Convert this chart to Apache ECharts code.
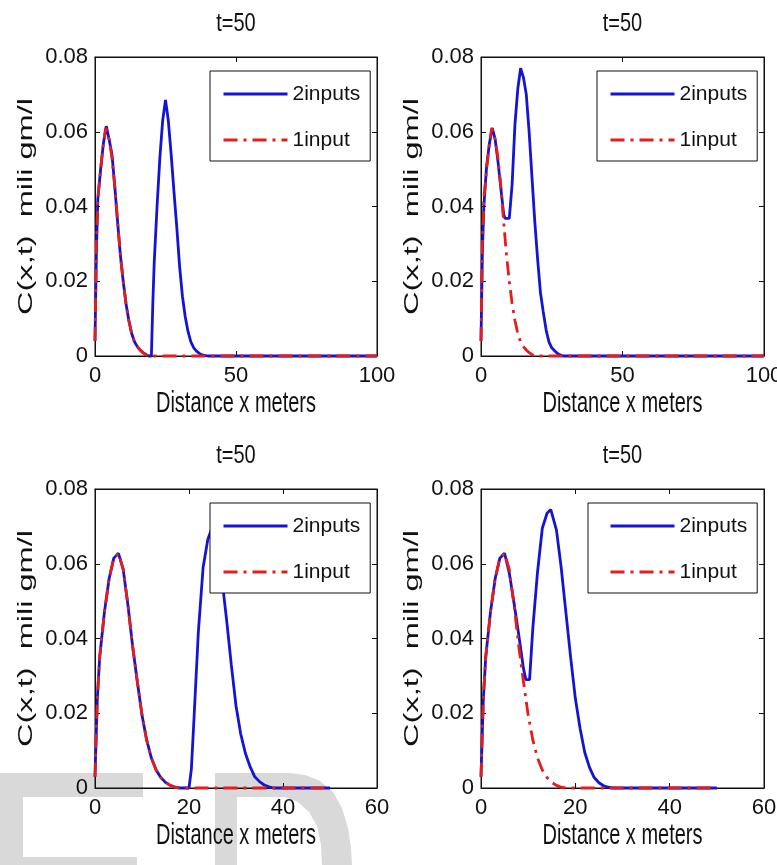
<!DOCTYPE html>
<html>
<head>
<meta charset="utf-8">
<title>C(x,t) at t=50</title>
<script src="https://cdn.jsdelivr.net/npm/echarts@6/dist/echarts.min.js"></script>
<style>
  html, body { margin: 0; padding: 0; background: #fff; }
  #chart { width: 777px; height: 865px; }
</style>
</head>
<body>
<div id="chart"></div>
<script>
// ==========================================
// 1. Data
// ==========================================
const panelTitles = ['t=50', 't=50', 't=50', 't=50'];
const seriesNames = ['2inputs', '1input'];
const xAxisName = 'Distance x meters';
const yAxisName = 'C(x,t)  mili gm/l';

const xTicksLong = [0, 50, 100];
const xTicksShort = [0, 20, 40, 60];
const yTicks = [0, 0.02, 0.04, 0.06, 0.08];

// [x, C] pairs
const twoInputs1 = [[0,0.004],[0.5,0.028],[1,0.042],[2,0.05],[3,0.057],[4,0.0615],[5,0.058],[6,0.054],[7,0.0455],[8,0.036],[9,0.027],[10,0.02],[11,0.014],[12,0.0095],[13,0.006],[14,0.0038],[15,0.0025],[16,0.0016],[17,0.0009],[18,0.0004],[19,0],[20,0],[20.5,0.014],[21,0.025],[22,0.04],[23,0.053],[24,0.063],[25,0.0685],[26,0.063],[27,0.054],[28,0.044],[29,0.0345],[30,0.024],[31,0.016],[32,0.0105],[33,0.0065],[34,0.0038],[35,0.0022],[36,0.0013],[37,0.0007],[38,0.0003],[40,0],[100,0]];
const oneInput1 = [[0,0.004],[0.5,0.03],[1,0.042],[2,0.05],[3,0.057],[3.8,0.061],[5,0.058],[6,0.053],[7,0.0455],[8,0.036],[9,0.027],[10,0.02],[11,0.014],[12,0.0095],[13,0.006],[14,0.0038],[15,0.0025],[16,0.0016],[17,0.0009],[18,0.0004],[19,0],[100,0]];
const twoInputs2 = [[0,0.004],[0.5,0.028],[1,0.04],[2,0.051],[3,0.057],[4,0.061],[5,0.058],[6,0.052],[7,0.045],[8,0.038],[8.5,0.0368],[10,0.0368],[11,0.046],[12,0.062],[13,0.0715],[14,0.077],[15,0.0745],[16,0.07],[17,0.06],[18,0.048],[19,0.036],[20,0.026],[21,0.017],[22,0.0118],[23,0.007],[24,0.0038],[25,0.0022],[26,0.0014],[27,0.0007],[28,0.0003],[29,0],[100,0]];
const twoInputs3 = [[0,0.003],[0.5,0.024],[1,0.035],[2,0.047],[3,0.056],[4,0.0615],[5,0.0628],[6,0.0585],[7,0.049],[8,0.038],[9,0.0285],[10,0.0195],[11,0.0128],[12,0.008],[13,0.0048],[14,0.0028],[15,0.0015],[16,0.0007],[17,0.0002],[18,0],[20,0],[20.5,0.005],[21,0.017],[22,0.042],[23,0.059],[24,0.0665],[25,0.07],[26,0.067],[27,0.056],[28,0.045],[29,0.033],[30,0.022],[31,0.0145],[32,0.0093],[33,0.0057],[34,0.003],[35,0.0017],[36,0.0008],[37,0.0003],[38,0],[50,0]];
const oneInput3 = [[0,0.003],[0.5,0.024],[1,0.035],[2,0.047],[3,0.056],[4,0.0615],[5,0.0628],[6,0.0585],[7,0.049],[8,0.038],[9,0.0285],[10,0.0195],[11,0.0128],[12,0.008],[13,0.0048],[14,0.0028],[15,0.0015],[16,0.0007],[17,0.0002],[18,0],[50,0]];
const twoInputs4 = [[0,0.003],[0.5,0.024],[1,0.035],[2,0.047],[3,0.056],[4,0.0615],[5,0.0628],[6,0.0575],[7,0.0495],[8,0.041],[9,0.032],[9.5,0.029],[10.3,0.029],[11,0.043],[12,0.058],[13,0.0695],[14,0.0735],[14.8,0.0745],[16,0.069],[17,0.059],[18,0.047],[19,0.035],[20,0.024],[21,0.016],[22,0.0095],[23,0.0055],[24,0.0028],[25,0.0014],[26,0.0006],[27,0.0002],[28,0],[50,0]];

// ==========================================
// 2. Layout & styles
// ==========================================
const FONT = '"Liberation Sans", Arial, sans-serif';
const BLUE = '#1414d2', RED = '#e31c1c', INK = '#111', GREY = '#d9d9d9';
const PLOT_H = 299;
const LINE_W = 2.8;

const panels = [
    { left: 95,  top: 57,  width: 282, xTicks: xTicksLong,  two: twoInputs1, one: oneInput1, legend: [210, 71, 12] },
    { left: 481, top: 57,  width: 283, xTicks: xTicksLong,  two: twoInputs2, one: oneInput1, legend: [597, 71, 12] },
    { left: 95,  top: 489, width: 282, xTicks: xTicksShort, two: twoInputs3, one: oneInput3, legend: [210, 503, 12] },
    { left: 481, top: 489, width: 283, xTicks: xTicksShort, two: twoInputs4, one: oneInput3, legend: [588, 503, 21] }
];

// ==========================================
// 3. Build option
// ==========================================
const grid = [], xAxis = [], yAxis = [], series = [], legend = [];

// faint "ED" watermark in the lower left corner
const graphic = [
    { type: 'polygon', z: -10, silent: true,
      shape: { points: [[0,773],[143,773],[143,797],[23,797],[23,857],[137,857],[137,865],[0,865]] },
      style: { fill: GREY } },
    { type: 'polygon', z: -10, silent: true,
      shape: { points: [[215,865],[215,773],[290,773],[305,775],[320,781],[333,792],[342,808],[348,828],[351,848],[352,865],
                        [322,865],[321,845],[317,826],[309,812],[298,802],[285,797],[237,797],[237,865]] },
      style: { fill: GREY } }
];

panels.forEach((p, i) => {
    grid.push({
        left: p.left, top: p.top, width: p.width, height: PLOT_H,
        show: true, borderColor: INK, borderWidth: 1, backgroundColor: 'transparent',
        containLabel: false, outerBoundsMode: 'none'
    });

    const xt = p.xTicks;
    const axisCommon = {
        gridIndex: i, type: 'value', splitLine: { show: false },
        axisLine: { show: true, onZero: false, lineStyle: { color: INK, width: 1 } },
        axisTick: { show: true, inside: true, length: 5, lineStyle: { color: INK } }
    };
    const xRange = { min: xt[0], max: xt[xt.length - 1], interval: xt[1] - xt[0] };
    const yRange = { min: yTicks[0], max: yTicks[yTicks.length - 1], interval: yTicks[1] - yTicks[0] };

    xAxis.push(Object.assign({}, axisCommon, xRange, {
        position: 'bottom',
        axisLabel: { margin: 9, color: INK, fontFamily: FONT, fontSize: 22, showMinLabel: true, showMaxLabel: true }
    }));
    xAxis.push(Object.assign({}, axisCommon, xRange, { position: 'top', axisLabel: { show: false } }));

    yAxis.push(Object.assign({}, axisCommon, yRange, {
        position: 'left',
        axisLabel: { margin: 7, color: INK, fontFamily: FONT, fontSize: 22, showMinLabel: true, showMaxLabel: true }
    }));
    yAxis.push(Object.assign({}, axisCommon, yRange, { position: 'right', axisLabel: { show: false } }));

    series.push({
        name: seriesNames[0], type: 'line', xAxisIndex: 2 * i, yAxisIndex: 2 * i,
        data: p.two, symbol: 'none', clip: false, animation: false,
        lineStyle: { color: BLUE, width: LINE_W }, itemStyle: { color: BLUE }
    });
    series.push({
        name: seriesNames[1], type: 'line', xAxisIndex: 2 * i, yAxisIndex: 2 * i,
        data: p.one, symbol: 'none', clip: false, animation: false,
        lineStyle: { color: RED, width: LINE_W, type: [14, 6, 3, 6] }, itemStyle: { color: RED }
    });

    // legend: plain line samples, no marker in the middle
    legend.push({
        orient: 'vertical', left: p.legend[0], top: p.legend[1],
        padding: [10, 10, 8, p.legend[2]],
        itemWidth: 64, itemHeight: 14, itemGap: 20,
        backgroundColor: '#fff', borderColor: INK, borderWidth: 1, borderRadius: 0,
        selectedMode: false,
        itemStyle: { opacity: 0 },
        lineStyle: { width: 3 },
        textStyle: { color: INK, fontFamily: FONT, fontSize: 21, lineHeight: 26 },
        data: seriesNames
    });

    // title and axis names: a little taller than wide, like the source figure
    graphic.push({
        type: 'text', silent: true, x: p.left + p.width / 2, y: p.top - 33, scaleY: 1.26,
        style: { text: panelTitles[i], fontSize: 20, fontFamily: FONT, fill: INK, align: 'center', verticalAlign: 'middle' }
    });
    graphic.push({
        type: 'text', silent: true, x: p.left + p.width / 2, y: p.top + PLOT_H + 48, scaleY: 1.45,
        style: { text: xAxisName, fontSize: 20, fontFamily: FONT, fill: INK, align: 'center', verticalAlign: 'middle' }
    });
    graphic.push({
        type: 'text', silent: true, x: p.left - 69, y: p.top + PLOT_H / 2,
        rotation: Math.PI / 2, scaleX: 1.55,
        style: { text: yAxisName, fontSize: 21, fontFamily: FONT, fill: INK, align: 'center', verticalAlign: 'middle' }
    });
});

const chart = echarts.init(document.getElementById('chart'), null, { renderer: 'canvas' });
chart.setOption({
    backgroundColor: '#fff',
    animation: false,
    legend: legend,
    grid: grid,
    xAxis: xAxis,
    yAxis: yAxis,
    series: series,
    graphic: graphic
});
</script>
</body>
</html>
